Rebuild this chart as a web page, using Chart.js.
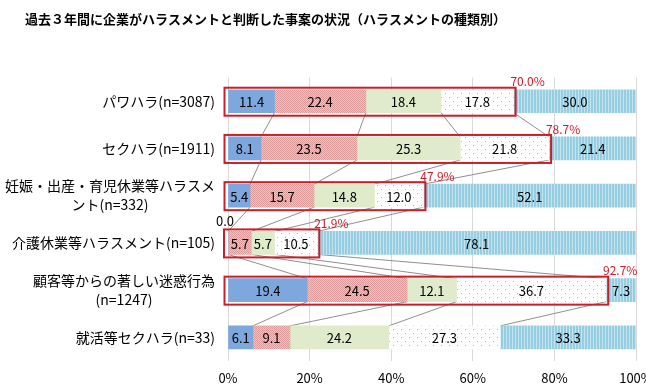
<!DOCTYPE html>
<html lang="ja">
<head>
<meta charset="utf-8">
<script src="https://cdn.jsdelivr.net/npm/chart.js@4.4.0/dist/chart.umd.min.js"></script>
<style>
  body { margin: 0; background: #fff; }
  #wrap { width: 646px; height: 387px; position: relative; }
</style>
</head>
<body>
<div id="wrap"><canvas id="myChart"></canvas></div>
<script>
// データ
const categories = [
  'パワハラ(n=3087)',
  'セクハラ(n=1911)',
  ['妊娠・出産・育児休業等ハラスメ', 'ント(n=332)'],
  '介護休業等ハラスメント(n=105)',
  ['顧客等からの著しい迷惑行為', '(n=1247)'],
  '就活等セクハラ(n=33)'
]
const seriesNames = ['件数が増加している', '件数は変わらない', '件数が減少している', '件数の増減は把握していない', '該当事案はなかった']
const zokaData = [11.4, 8.1, 5.4, 0.0, 19.4, 6.1]
const kawaranaiData = [22.4, 23.5, 15.7, 5.7, 24.5, 9.1]
const genshoData = [18.4, 25.3, 14.8, 5.7, 12.1, 24.2]
const fumeiData = [17.8, 21.8, 12.0, 10.5, 36.7, 27.3]
const nashiData = [30.0, 21.4, 52.1, 78.1, 7.3, 33.3]
// 赤枠の上の数字（該当事案あり 合計）
const boxLabels = ['70.0%', '78.7%', '47.9%', '21.9%', '92.7%', null]
const xTicks = [0, 20, 40, 60, 80, 100]

const FONT = '"Noto Sans CJK JP", "Liberation Sans", sans-serif'
Chart.defaults.font.family = FONT
Chart.defaults.color = '#000'

const canvas = document.getElementById('myChart')
const ctx = canvas.getContext('2d')

// 塗りつぶしパターン
function makePattern(w, h, bg, fg, pts) {
  const c = document.createElement('canvas')
  c.width = w
  c.height = h
  const g = c.getContext('2d')
  g.fillStyle = bg
  g.fillRect(0, 0, w, h)
  g.fillStyle = fg
  pts.forEach(p => g.fillRect(p[0], p[1], p[2] || 1, p[3] || 1))
  return ctx.createPattern(c, 'repeat')
}
const pinkPat = makePattern(2, 2, '#efc2c2', '#dc9a9a', [[0, 0], [1, 1]])
const dotPat = makePattern(8, 8, '#ffffff', '#b4b4b4', [[1, 1], [5, 5]])
const stripePat = makePattern(3, 1, '#96cde1', '#c4e5f0', [[2, 0]])

const colors = ['#7ea7dd', pinkPat, '#e0ebcb', dotPat, stripePat]
const seriesData = [zokaData, kawaranaiData, genshoData, fumeiData, nashiData]

// 系列線・赤枠・データラベル・項目名
const extras = {
  id: 'extras',
  beforeDatasetsDraw(chart) {
    const c = chart.ctx
    c.save()
    c.strokeStyle = '#8f8f8f'
    c.lineWidth = 1
    for (let d = 0; d < 4; d++) {
      const bars = chart.getDatasetMeta(d).data
      for (let i = 0; i < bars.length - 1; i++) {
        const a = bars[i], b = bars[i + 1]
        c.beginPath()
        c.moveTo(a.x, a.y + a.height / 2)
        c.lineTo(b.x, b.y - b.height / 2)
        c.stroke()
      }
    }
    c.restore()
  },
  afterDatasetsDraw(chart) {
    const c = chart.ctx
    c.save()
    // 赤枠
    boxLabels.forEach((lab, i) => {
      if (!lab) return
      const first = chart.getDatasetMeta(0).data[i]
      const last = chart.getDatasetMeta(3).data[i]
      const top = first.y - first.height / 2
      const left = first.base - 4
      const right = last.x + 2
      c.strokeStyle = '#c8202a'
      c.lineWidth = 2
      c.strokeRect(left, top - 2, right - left, first.height + 5)
      c.fillStyle = '#c8202a'
      c.font = '12px ' + FONT
      c.textAlign = 'center'
      c.textBaseline = 'middle'
      c.fillText(lab, right + 12, top - 8)
    })
    // データラベル
    c.fillStyle = '#000'
    c.font = '13px ' + FONT
    c.textAlign = 'center'
    c.textBaseline = 'middle'
    chart.data.datasets.forEach((ds, d) => {
      chart.getDatasetMeta(d).data.forEach((bar, i) => {
        const v = ds.data[i]
        if (v > 0) {
          c.fillText(v.toFixed(1), (bar.x + bar.base) / 2, bar.y + 1)
        } else {
          c.fillText(v.toFixed(1), bar.base - 3, bar.y - bar.height / 2 - 10)
        }
      })
    })
    c.restore()
  },
  afterDraw(chart) {
    const c = chart.ctx
    const yScale = chart.scales.y
    c.save()
    c.fillStyle = '#000'
    c.font = '14px ' + FONT
    c.textAlign = 'center'
    c.textBaseline = 'middle'
    chart.data.labels.forEach((lab, i) => {
      const lines = Array.isArray(lab) ? lab : [lab]
      const w = Math.max(...lines.map(t => c.measureText(t).width))
      const cx = chart.chartArea.left - 13 - w / 2
      const y0 = yScale.getPixelForValue(i) - (lines.length - 1) * 19 / 2
      lines.forEach((t, k) => c.fillText(t, cx, y0 + k * 19))
    })
    c.restore()
  }
}

const data = {
  labels: categories,
  datasets: seriesData.map((arr, k) => ({
    label: seriesNames[k],
    data: arr,
    backgroundColor: colors[k],
    borderWidth: 0,
    barThickness: 23
  }))
}

const config = {
  type: 'bar',
  data: data,
  options: {
    indexAxis: 'y',
    responsive: true,
    maintainAspectRatio: false,
    animation: false,
    layout: { padding: { left: 25, right: 10, top: 0, bottom: 0 } },
    plugins: {
      legend: { display: false },
      tooltip: { enabled: false },
      title: {
        display: true,
        text: '過去３年間に企業がハラスメントと判断した事案の状況（ハラスメントの種類別）',
        align: 'start',
        color: '#000',
        font: { size: 13, weight: 'bold' },
        padding: { top: 11, bottom: 51 }
      }
    },
    scales: {
      x: {
        stacked: true,
        min: 0,
        max: 100,
        grid: { color: '#d9d9d9', drawTicks: false },
        border: { display: false },
        afterBuildTicks(s) { s.ticks = xTicks.map(v => ({ value: v })) },
        ticks: {
          padding: 9,
          color: '#000',
          font: { size: 13 },
          callback: v => v + '%'
        },
        afterFit(s) {
          s.height = 26
          s.paddingLeft = 0
          s.paddingRight = 0
        }
      },
      y: {
        stacked: true,
        grid: { display: false },
        border: { display: false },
        ticks: { display: false },
        afterFit(s) { s.width = 203 }
      }
    }
  },
  plugins: [extras]
}

const myChart = new Chart(ctx, config)
</script>
</body>
</html>
